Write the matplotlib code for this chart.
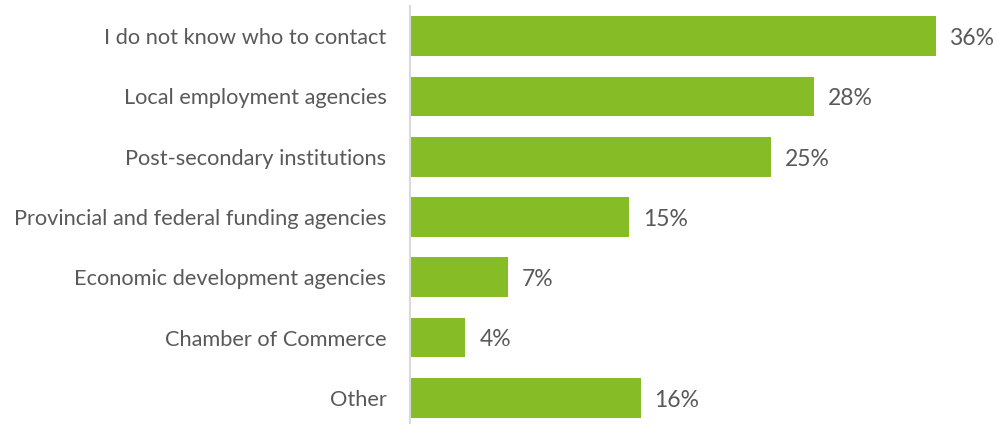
import matplotlib
matplotlib.use("Agg")
import matplotlib.pyplot as plt

categories = [
    "I do not know who to contact",
    "Local employment agencies",
    "Post-secondary institutions",
    "Provincial and federal funding agencies",
    "Economic development agencies",
    "Chamber of Commerce",
    "Other",
]
values = [36.0, 27.7, 24.7, 15.0, 6.7, 3.8, 15.8]
labels = ["36%", "28%", "25%", "15%", "7%", "4%", "16%"]

plt.rcParams['font.family'] = ['Lato', 'DejaVu Sans']
text_color = "#595959"
bar_color = "#86BC25"

fig = plt.figure(figsize=(9.96, 4.24), dpi=100)
ax = fig.add_axes([410/996, -4/424, 584/996, 422/424])
ypos = list(range(len(categories)))
ax.barh(ypos, values, height=0.66, color=bar_color)
ax.set_ylim(6.5, -0.5)
ax.set_xlim(0, 40)
ax.set_yticks(ypos)
ax.set_yticklabels(categories, color=text_color, fontsize=15.7)
ax.tick_params(axis='y', length=0, pad=17)
ax.set_xticks([])
for s in ['top', 'right', 'bottom']:
    ax.spines[s].set_visible(False)
ax.spines['left'].set_color('#d9d9d9')
ax.spines['left'].set_linewidth(1.5)
for y, v, l in zip(ypos, values, labels):
    ax.text(v + 0.95, y + 0.04, l, va='center', ha='left', color=text_color, fontsize=16.5)
fig.savefig("out.png", dpi=100)
